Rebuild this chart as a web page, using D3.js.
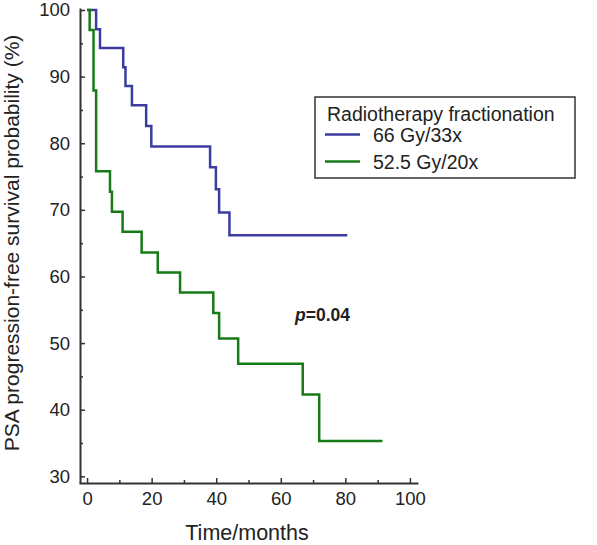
<!DOCTYPE html>
<html>
<head>
<meta charset="utf-8">
<script src="https://cdn.jsdelivr.net/npm/d3@7"></script>
<style>
  html, body { margin: 0; padding: 0; background: #fff; }
  svg { display: block; font-family: "Liberation Sans", Arial, sans-serif; }
</style>
</head>
<body>
<svg id="chart" width="597" height="545"></svg>
<script>
// ---- data ----
const seriesNames = ["66 Gy/33x", "52.5 Gy/20x"];
const blueTimes  = [0, 2.8, 4.0, 11.2, 11.9, 13.9, 18.3, 19.9, 38.1, 39.9, 40.9, 44.1, 80.6];
const blueValues = [100, 97.1, 94.3, 91.4, 88.6, 85.7, 82.6, 79.5, 76.4, 73.1, 69.6, 66.2, 66.2];
const greenTimes  = [0, 0.8, 2.0, 2.8, 7.1, 7.7, 11.0, 16.9, 21.9, 28.8, 39.1, 40.9, 46.8, 66.8, 71.9, 91.5];
const greenValues = [100, 97.0, 87.9, 75.8, 72.7, 69.7, 66.7, 63.6, 60.6, 57.6, 54.5, 50.7, 46.9, 42.3, 35.3, 35.3];
const xTicks = [0, 20, 40, 60, 80, 100];
const xMinorTicks = [10, 30, 50, 70, 90];
const yTicks = [30, 40, 50, 60, 70, 80, 90, 100];
const yMinorTicks = [35, 45, 55, 65, 75, 85, 95];
const legendTitle = "Radiotherapy fractionation";
const xLabel = "Time/months";
const yLabel = "PSA progression-free survival probability (%)";
const pText = "=0.04";

// ---- drawing ----
const svg = d3.select("#chart");
const colors = ["#3c3ca0", "#167a16"];
const axisColor = "#333";

const x = d3.scaleLinear().domain([-2.5, 102.5]).range([79, 418]);
const y = d3.scaleLinear().domain([29, 100.3]).range([483, 8]);

const xAxisY = 483, yAxisX = 80;

function styleAxis(g) {
  g.select(".domain").attr("stroke", axisColor).attr("stroke-width", 2);
  g.selectAll(".tick line").attr("stroke", axisColor).attr("stroke-width", 1.5);
  g.selectAll(".tick text").attr("fill", "#222").attr("font-size", 18.5)
    .attr("font-family", "Liberation Sans, Arial, sans-serif");
}

// minor ticks
svg.append("g").attr("transform", `translate(0,${xAxisY})`)
  .call(d3.axisBottom(x).tickValues(xMinorTicks).tickSizeInner(-3).tickSizeOuter(0).tickFormat(""))
  .call(g => { g.select(".domain").remove(); g.selectAll(".tick line").attr("stroke", axisColor).attr("stroke-width", 1.5); });
svg.append("g").attr("transform", `translate(${yAxisX},0)`)
  .call(d3.axisLeft(y).tickValues(yMinorTicks).tickSizeInner(-3).tickSizeOuter(0).tickFormat(""))
  .call(g => { g.select(".domain").remove(); g.selectAll(".tick line").attr("stroke", axisColor).attr("stroke-width", 1.5); });

// major axes
svg.append("g").attr("transform", `translate(0,${xAxisY})`)
  .call(d3.axisBottom(x).tickValues(xTicks).tickSizeInner(-5).tickSizeOuter(0).tickPadding(9))
  .call(styleAxis);
svg.append("g").attr("transform", `translate(${yAxisX},0)`)
  .call(d3.axisLeft(y).tickValues(yTicks).tickSizeInner(-5).tickSizeOuter(0).tickPadding(10))
  .call(styleAxis);

// curves
const line = d3.line().x(d => x(d[0])).y(d => y(d[1])).curve(d3.curveStepAfter);
const blue = blueTimes.map((t, i) => [t, blueValues[i]]);
const green = greenTimes.map((t, i) => [t, greenValues[i]]);
svg.append("path").datum(blue).attr("d", line).attr("fill", "none")
  .attr("stroke", colors[0]).attr("stroke-width", 2.5);
svg.append("path").datum(green).attr("d", line).attr("fill", "none")
  .attr("stroke", colors[1]).attr("stroke-width", 2.5);

// axis labels
svg.append("text").attr("x", 247).attr("y", 540).attr("text-anchor", "middle")
  .attr("font-size", 21.5).attr("fill", "#222").text(xLabel);
svg.append("text").attr("transform", "translate(19,243) rotate(-90)").attr("text-anchor", "middle")
  .attr("font-size", 21).attr("fill", "#222").text(yLabel);

// p-value
const pt = svg.append("text").attr("x", 295).attr("y", 321).attr("font-size", 17.5)
  .attr("font-weight", "bold").attr("fill", "#222");
pt.append("tspan").attr("font-style", "italic").text("p");
pt.append("tspan").text(pText);

// legend
const lg = svg.append("g");
lg.append("rect").attr("x", 315).attr("y", 97).attr("width", 260).attr("height", 81)
  .attr("fill", "#fff").attr("stroke", axisColor).attr("stroke-width", 1.5);
lg.append("text").attr("x", 327).attr("y", 121).attr("font-size", 19.5).attr("fill", "#222").text(legendTitle);
seriesNames.forEach((name, i) => {
  const yy = 134.5 + i * 27;
  lg.append("line").attr("x1", 325).attr("x2", 360).attr("y1", yy).attr("y2", yy)
    .attr("stroke", colors[i]).attr("stroke-width", 2.5);
  lg.append("text").attr("x", 373).attr("y", yy + 7.5).attr("font-size", 19.5).attr("fill", "#222").text(name);
});
</script>
</body>
</html>
